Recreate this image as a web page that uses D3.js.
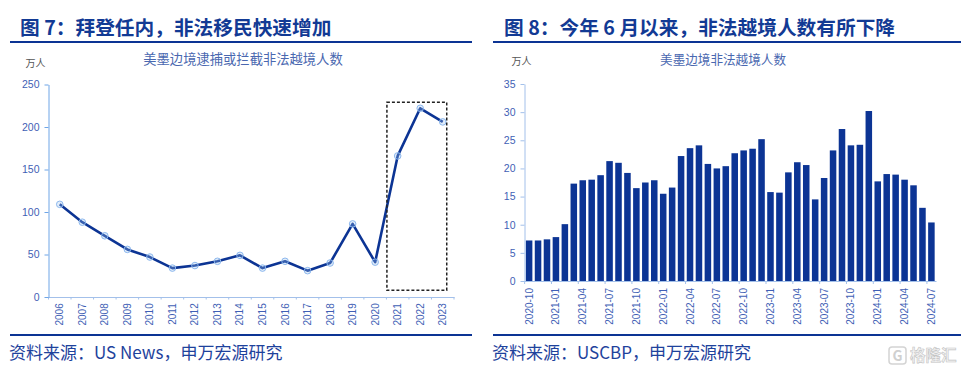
<!DOCTYPE html>
<html>
<head>
<meta charset="utf-8">
<script src="https://cdn.jsdelivr.net/npm/d3@7"></script>
<style>
    html, body { margin: 0; padding: 0; background: #fff; }
    svg { display: block; }
    text { font-family: "Noto Sans CJK SC", sans-serif; }
    .tick text { font-family: "Liberation Sans", Arial, sans-serif; }
</style>
</head>
<body>
<div id="chart"></div>
<script>
// Figure 7: yearly apprehensions
const years = ["2006", "2007", "2008", "2009", "2010", "2011", "2012", "2013", "2014",
    "2015", "2016", "2017", "2018", "2019", "2020", "2021", "2022", "2023"];
const yearValues = [109, 88, 72, 56, 47, 34, 37, 42, 49, 34, 42, 31, 40, 86, 41, 166, 222, 206];
const yearTicks = [0, 50, 100, 150, 200, 250];

// Figure 8: monthly crossings
const months = ["2020-10", "2020-11", "2020-12", "2021-01", "2021-02", "2021-03", "2021-04", "2021-05",
    "2021-06", "2021-07", "2021-08", "2021-09", "2021-10", "2021-11", "2021-12", "2022-01", "2022-02",
    "2022-03", "2022-04", "2022-05", "2022-06", "2022-07", "2022-08", "2022-09", "2022-10", "2022-11",
    "2022-12", "2023-01", "2023-02", "2023-03", "2023-04", "2023-05", "2023-06", "2023-07", "2023-08",
    "2023-09", "2023-10", "2023-11", "2023-12", "2024-01", "2024-02", "2024-03", "2024-04", "2024-05",
    "2024-06", "2024-07"];
const monthValues = [7.2, 7.2, 7.4, 7.8, 10.1, 17.3, 17.9, 18.0, 18.8, 21.3, 21.0, 19.2, 16.5, 17.5, 17.9,
    15.5, 16.6, 22.2, 23.6, 24.1, 20.8, 20.0, 20.4, 22.7, 23.2, 23.5, 25.2, 15.8, 15.7, 19.3, 21.1, 20.6,
    14.5, 18.3, 23.2, 27.0, 24.1, 24.2, 30.2, 17.7, 19.0, 18.9, 18.0, 17.0, 13.0, 10.4];
const monthTicks = [0, 5, 10, 15, 20, 25, 30, 35];

const navy = "#0c3494";
const axisBlue = "#6fa5e6";
const axisPale = "#a3c0ea";
const labelBlue = "#3f5fb5";
const titleBlue = "#4a68b0";

const svg = d3.select("#chart").append("svg")
    .attr("width", 963)
    .attr("height", 372);

// Heading, rules and source line shared by both panels
function frame(x0, x1, title, source, titleX) {
    svg.append("text")
        .attr("x", titleX)
        .attr("y", 35)
        .attr("font-size", 19.7)
        .attr("font-weight", 700)
        .attr("fill", "#123a94")
        .text(title);
    svg.append("rect").attr("x", x0).attr("y", 41).attr("width", x1 - x0).attr("height", 2).attr("fill", navy);
    svg.append("rect").attr("x", x0).attr("y", 334).attr("width", x1 - x0).attr("height", 2).attr("fill", navy);
    svg.append("text")
        .attr("x", x0 - 1)
        .attr("y", 359)
        .attr("font-size", 17)
        .attr("fill", "#1e429c")
        .text(source);
}

function axisStyle(g) {
    g.selectAll(".domain").attr("stroke", axisPale).attr("stroke-width", 1);
    g.selectAll("line").attr("stroke", axisPale);
    g.selectAll("text").attr("fill", labelBlue).attr("font-size", 10);
}

frame(10, 472, "图 7：拜登任内，非法移民快速增加", "资料来源：US News，申万宏源研究", 20);
frame(493, 961, "图 8：今年 6 月以来，非法越境人数有所下降", "资料来源：USCBP，申万宏源研究", 504);

// Left panel: line chart
const x7 = d3.scaleBand().domain(years).range([48.5, 454]);
const y7 = d3.scaleLinear().domain([0, 250]).range([297, 84.5]);

svg.append("g")
    .attr("transform", "translate(0,297)")
    .call(d3.axisBottom(x7).tickSize(0))
    .call(axisStyle)
    .call(g => g.selectAll("text")
        .attr("transform", "rotate(-90)")
        .attr("text-anchor", "end")
        .attr("x", -6.3)
        .attr("y", 0)
        .attr("dy", "0.35em"));

// tick marks sit on the band edges, not the centres
svg.append("g").selectAll("line")
    .data(years.concat(["end"]))
    .join("line")
    .attr("x1", (d, i) => x7.range()[0] + i * x7.step())
    .attr("x2", (d, i) => x7.range()[0] + i * x7.step())
    .attr("y1", 297)
    .attr("y2", 299.5)
    .attr("stroke", axisPale);

svg.append("g")
    .attr("transform", "translate(48.5,0)")
    .call(d3.axisLeft(y7).tickValues(yearTicks).tickSize(4).tickPadding(5).tickSizeOuter(0))
    .call(axisStyle)
    .call(g => g.selectAll(".domain, line").attr("stroke", axisBlue))
    .call(g => g.selectAll("text").attr("font-size", 10.5));

const line7 = d3.line()
    .x((d, i) => x7(years[i]) + x7.bandwidth() / 2)
    .y(d => y7(d));

svg.append("path")
    .datum(yearValues)
    .attr("fill", "none")
    .attr("stroke", navy)
    .attr("stroke-width", 2.6)
    .attr("stroke-linejoin", "round")
    .attr("d", line7);

svg.append("g").selectAll("circle")
    .data(yearValues)
    .join("circle")
    .attr("cx", (d, i) => x7(years[i]) + x7.bandwidth() / 2)
    .attr("cy", d => y7(d))
    .attr("r", 3.3)
    .attr("fill", "#9cc3f0")
    .attr("fill-opacity", 0.3)
    .attr("stroke", "#8db8ee")
    .attr("stroke-width", 1);

// Dashed box around 2021-2023
svg.append("rect")
    .attr("x", x7("2021") + 0.5)
    .attr("y", y7(229))
    .attr("width", x7("2023") + x7.bandwidth() / 2 + 4 - x7("2021") - 0.5)
    .attr("height", y7(8) - y7(229))
    .attr("fill", "none")
    .attr("stroke", "#222")
    .attr("stroke-width", 1.5)
    .attr("stroke-dasharray", "3,2");

svg.append("text")
    .attr("x", 243).attr("y", 64)
    .attr("text-anchor", "middle")
    .attr("font-size", 13.3)
    .attr("fill", titleBlue)
    .text("美墨边境逮捕或拦截非法越境人数");
svg.append("text")
    .attr("x", 35.5).attr("y", 67)
    .attr("text-anchor", "middle")
    .attr("font-size", 10)
    .attr("fill", "#555")
    .text("万人");

// Right panel: bar chart
const x8 = d3.scaleBand().domain(months).range([524.5, 936]).paddingInner(0.27).paddingOuter(0.15);
const y8 = d3.scaleLinear().domain([0, 35]).range([281, 84]);
const quarterMonths = months.filter((d, i) => i % 3 === 0);

svg.append("g").selectAll("rect")
    .data(monthValues)
    .join("rect")
    .attr("x", (d, i) => x8(months[i]))
    .attr("y", d => y8(d))
    .attr("width", x8.bandwidth())
    .attr("height", d => y8(0) - y8(d))
    .attr("fill", navy);

svg.append("g")
    .attr("transform", "translate(0,281)")
    .call(d3.axisBottom(x8).tickValues(quarterMonths).tickSize(0))
    .call(axisStyle)
    .call(g => g.selectAll("text")
        .attr("transform", "rotate(-90)")
        .attr("text-anchor", "end")
        .attr("x", -7)
        .attr("y", 0)
        .attr("dy", "0.35em"));

// quarter tick marks hang below the axis at the band edges
svg.append("g").selectAll("line")
    .data(quarterMonths)
    .join("line")
    .attr("x1", d => x8(d) - (x8.step() - x8.bandwidth()) / 2)
    .attr("x2", d => x8(d) - (x8.step() - x8.bandwidth()) / 2)
    .attr("y1", 281)
    .attr("y2", 284)
    .attr("stroke", axisPale);

svg.append("g")
    .attr("transform", "translate(524.5,0)")
    .call(d3.axisLeft(y8).tickValues(monthTicks).tickSize(4).tickPadding(5).tickSizeOuter(0))
    .call(axisStyle)
    .call(g => g.selectAll("text").attr("font-size", 10.5));

svg.append("text")
    .attr("x", 723).attr("y", 64)
    .attr("text-anchor", "middle")
    .attr("font-size", 12.6)
    .attr("fill", titleBlue)
    .text("美墨边境非法越境人数");
svg.append("text")
    .attr("x", 521.5).attr("y", 65)
    .attr("text-anchor", "middle")
    .attr("font-size", 10)
    .attr("fill", "#555")
    .text("万人");

// Watermark
svg.append("text")
    .attr("x", 910).attr("y", 361)
    .attr("font-size", 15.5)
    .attr("font-weight", 700)
    .attr("fill", "#f4f4f4")
    .attr("stroke", "#c4c4c4")
    .attr("stroke-width", 0.6)
    .text("格隆汇");
svg.append("rect")
    .attr("x", 889).attr("y", 347).attr("width", 17).attr("height", 17).attr("rx", 3)
    .attr("fill", "#fff")
    .attr("stroke", "#d4d4d4")
    .attr("stroke-width", 1.5);
svg.append("text")
    .attr("x", 897.5).attr("y", 360.5)
    .attr("text-anchor", "middle")
    .attr("font-size", 14)
    .attr("font-weight", 700)
    .attr("fill", "#d0d0d0")
    .text("G");
</script>
</body>
</html>
